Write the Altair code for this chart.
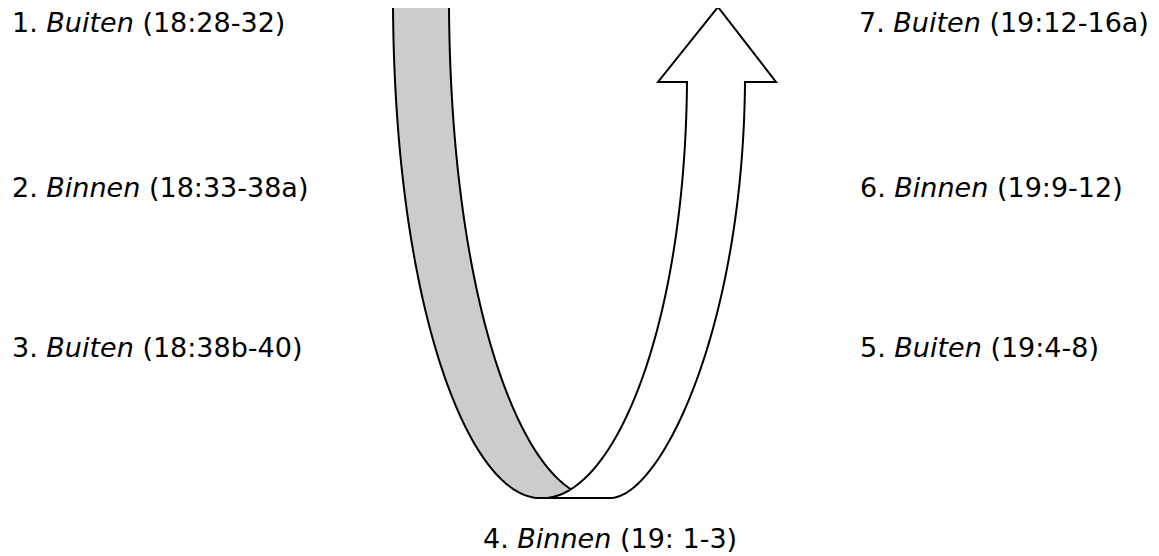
import altair as alt

# ---------------- content ----------------
numbers = ["1.", "2.", "3.", "4.", "5.", "6.", "7."]
words = ["Buiten", "Binnen", "Buiten", "Binnen", "Buiten", "Binnen", "Buiten"]
refs = ["(18:28-32)", "(18:33-38a)", "(18:38b-40)", "(19: 1-3)",
        "(19:4-8)", "(19:9-12)", "(19:12-16a)"]

# ---------------- layout (diagram space, screen pixels) ----------------
LABEL_X = [12, 12, 12, 483, 860, 860, 859]
LABEL_BASE = [32, 197, 357, 548, 357, 197, 32]
FONT = "DejaVu Sans"
FONT_SIZE = 27

# cubic Bezier control points of the four ribbon edges
outer_left = [(393, 7), (395, 310), (470, 498), (540, 498)]
grey_inner = [(449, 7), (451, 310), (526, 498), (598, 498)]
white_left = [(687, 82), (685, 330), (613, 498), (543, 498)]
white_right = [(745, 82), (743, 330), (660, 498), (610, 498)]
# arrow head: left wing, tip, right wing
head = [(658, 82), (718, 7), (776, 82)]

# DejaVu Sans advance widths (em)
ADV = {" ": 0.318, ".": 0.318, "(": 0.390, ")": 0.390, ":": 0.337, "-": 0.361,
       "a": 0.613, "b": 0.635, "B": 0.686, "u": 0.634, "i": 0.278, "t": 0.392,
       "e": 0.615, "n": 0.634}
for d in "0123456789":
    ADV[d] = 0.636


def width(s):
    return sum(ADV.get(c, 0.6) for c in s) * FONT_SIZE


def bezier(pts, n=80):
    (x0, y0), (x1, y1), (x2, y2), (x3, y3) = pts
    out = []
    for k in range(n + 1):
        t = k / n
        a, b, c, d = (1 - t) ** 3, 3 * (1 - t) ** 2 * t, 3 * (1 - t) * t ** 2, t ** 3
        out.append([a * x0 + b * x1 + c * x2 + d * x3, a * y0 + b * y1 + c * y2 + d * y3])
    return out


grey_ring = bezier(outer_left) + bezier(grey_inner)[::-1]
grey_ring.append(grey_ring[0])

white_ring = (bezier(white_left)[::-1]
              + [list(p) for p in head]
              + bezier(white_right))
white_ring.append(white_ring[0])

features = [
    {"type": "Feature", "properties": {"part": "grey"},
     "geometry": {"type": "Polygon", "coordinates": [grey_ring]}},
    {"type": "Feature", "properties": {"part": "white"},
     "geometry": {"type": "Polygon", "coordinates": [white_ring]}},
]

regular_rows, italic_rows = [], []
for num, word, ref, x0, yb in zip(numbers, words, refs, LABEL_X, LABEL_BASE):
    regular_rows.append({"t": num, "x": x0, "y": yb})
    xw = x0 + width(num + " ")
    italic_rows.append({"t": word, "x": xw, "y": yb})
    xr = xw + width(word + " ")
    regular_rows.append({"t": ref, "x": xr, "y": yb})

proj = dict(type="identity", scale=1, translate=[-8, -8])

grey = alt.Chart(alt.Data(values=[features[0]])).mark_geoshape(
    fill="#cccccc", stroke="#000000", strokeWidth=2, strokeJoin="miter"
).project(**proj)

white = alt.Chart(alt.Data(values=[features[1]])).mark_geoshape(
    fill="#ffffff", stroke="#000000", strokeWidth=2, strokeJoin="miter"
).project(**proj)

txt_reg = alt.Chart(alt.Data(values=regular_rows)).mark_text(
    align="left", baseline="alphabetic", font=FONT, fontSize=FONT_SIZE,
    color="#000000"
).encode(
    longitude="x:Q", latitude="y:Q", text="t:N"
).project(**proj)

txt_it = alt.Chart(alt.Data(values=italic_rows)).mark_text(
    align="left", baseline="alphabetic", font=FONT, fontSize=FONT_SIZE,
    fontStyle="italic", color="#000000"
).encode(
    longitude="x:Q", latitude="y:Q", text="t:N"
).project(**proj)

chart = alt.layer(grey, white, txt_reg, txt_it).properties(
    width=1143, height=548, padding=0, autosize="none", background="#ffffff"
).configure_view(strokeWidth=0)

chart.save("out.html", embed_options={"renderer": "svg", "actions": False})
